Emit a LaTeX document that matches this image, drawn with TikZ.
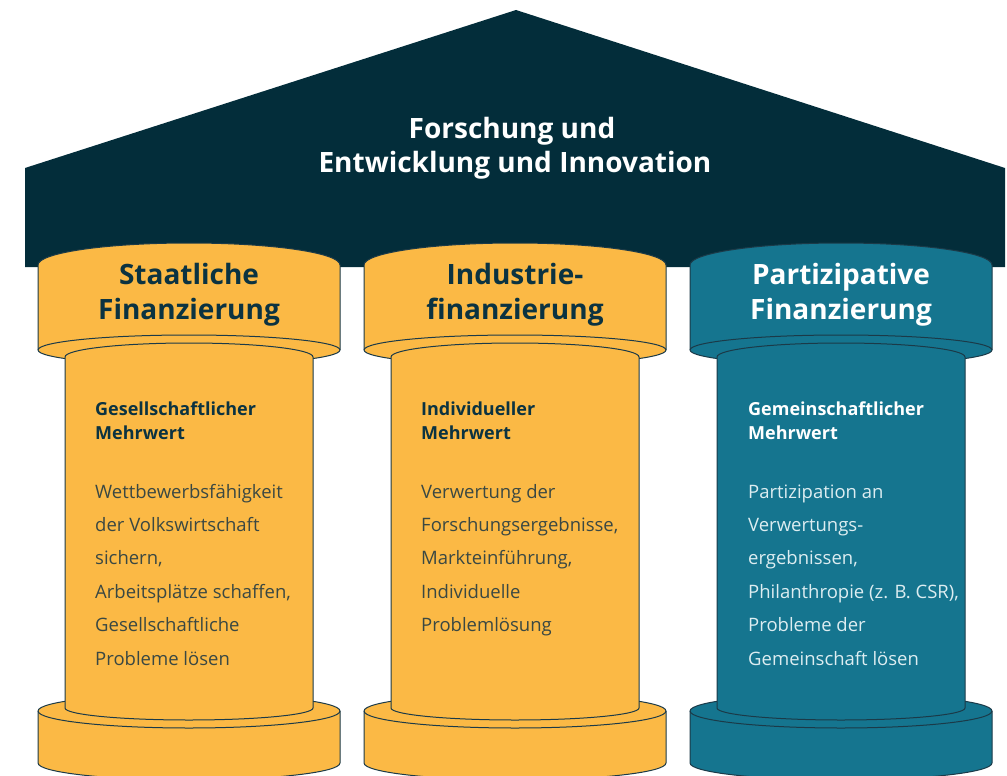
\documentclass[tikz,border=0pt]{standalone}
\usepackage{fontspec}
\setmainfont{Open Sans}
\definecolor{roof}{HTML}{032D3A}
\definecolor{gold}{HTML}{FBB945}
\definecolor{teal}{HTML}{15758F}
\definecolor{edge}{HTML}{1B3A48}
\definecolor{dark}{HTML}{0B3341}
\definecolor{bodygray}{HTML}{3A4843}
\definecolor{light}{HTML}{DDEDF1}
\tikzset{
  part/.style={draw=edge, line width=1pt},
  rooftext/.style={text=white, font=\bfseries\fontsize{28}{32}\selectfont, inner sep=0pt, anchor=base},
  coltitle/.style={font=\bfseries\fontsize{28}{32}\selectfont, inner sep=0pt, anchor=base},
  subhead/.style={font=\bfseries\fontsize{18}{22}\selectfont, inner sep=0pt, anchor=base west},
  bodytext/.style={font=\fontsize{18.5}{22}\selectfont, inner sep=0pt, anchor=base west},
}
\newcommand{\pillar}[2]{% #1 center x, #2 fill colour
  % capital
  \path[part, fill=#2] (#1-151,265) arc[start angle=180, end angle=360, x radius=151, y radius=22]
     -- (#1+151,350) arc[start angle=0, end angle=180, x radius=151, y radius=15] -- cycle;
  \draw[part] (#1-151,350) arc[start angle=180, end angle=360, x radius=151, y radius=15];
  % base
  \path[part, fill=#2] (#1-151,711) arc[start angle=180, end angle=360, x radius=151, y radius=17]
     -- (#1+151,763) arc[start angle=0, end angle=180, x radius=151, y radius=17] -- cycle;
  \draw[part] (#1-151,711) arc[start angle=180, end angle=0, x radius=151, y radius=17];
  % shaft
  \path[part, fill=#2] (#1-124,357) arc[start angle=180, end angle=360, x radius=124, y radius=14]
     -- (#1+124,708) arc[start angle=0, end angle=180, x radius=124, y radius=12] -- cycle;
}
\begin{document}
\begin{tikzpicture}[x=1pt, y=-1pt]
\useasboundingbox (0,0) rectangle (1007,776);
% roof
\fill[roof] (25,168) -- (516,10) -- (1005,168) -- (1005,267) -- (25,267) -- cycle;
\node[rooftext] (r1) at (512,138) {Forschung und};
\node[rooftext] (r2) at (515,172) {Entwicklung und Innovation};
% pillars
\pillar{189}{gold}
\pillar{515}{gold}
\pillar{841}{teal}
% column titles
\node[coltitle, text=dark] (t1a) at (189,284) {Staatliche};
\node[coltitle, text=dark] (t1b) at (189,319) {Finanzierung};
\node[coltitle, text=dark] (t2a) at (515,284) {Industrie-};
\node[coltitle, text=dark] (t2b) at (515,319) {finanzierung};
\node[coltitle, text=white] (t3a) at (841,284) {Partizipative};
\node[coltitle, text=white] (t3b) at (841,319) {Finanzierung};
% sub heads
\node[subhead, text=dark] (s1a) at (95,415) {Gesellschaftlicher};
\node[subhead, text=dark] (s1b) at (95,439) {Mehrwert};
\node[subhead, text=dark] (s2a) at (421,415) {Individueller};
\node[subhead, text=dark] (s2b) at (421,439) {Mehrwert};
\node[subhead, text=white] (s3a) at (748,415) {Gemeinschaftlicher};
\node[subhead, text=white] (s3b) at (748,439) {Mehrwert};
% body text
\foreach \t [count=\i] in {Wettbewerbsfähigkeit, der Volkswirtschaft, sichern{,}, Arbeitsplätze schaffen{,}, Gesellschaftliche, Probleme lösen}
  \node[bodytext, text=bodygray] (b1-\i) at (95,{498+33.4*(\i-1)}) {\t};
\foreach \t [count=\i] in {Verwertung der, Forschungsergebnisse{,}, Markteinführung{,}, Individuelle, Problemlösung}
  \node[bodytext, text=bodygray] (b2-\i) at (421,{498+33.4*(\i-1)}) {\t};
\foreach \t [count=\i] in {Partizipation an, Verwertungs-, ergebnissen{,}, Philanthropie (z. B. CSR){,}, Probleme der, Gemeinschaft lösen}
  \node[bodytext, text=light] (b3-\i) at (748,{498+33.4*(\i-1)}) {\t};
\end{tikzpicture}
\end{document}
